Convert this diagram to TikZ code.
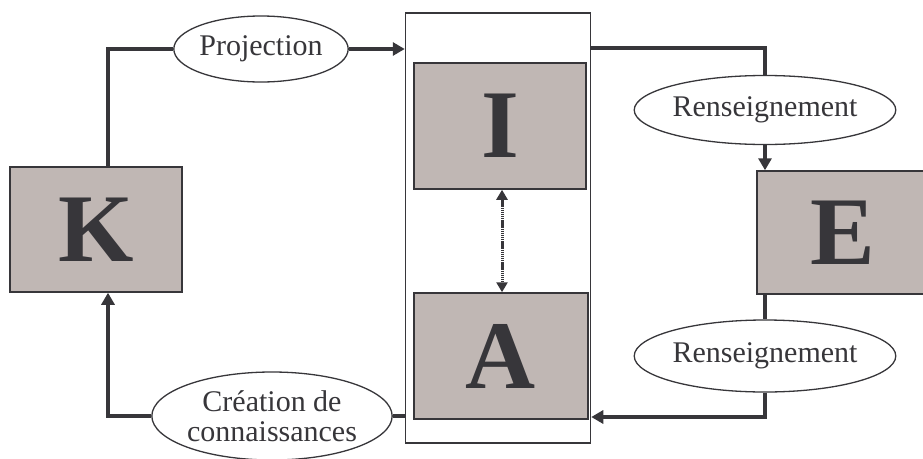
\documentclass[tikz,border=0pt]{standalone}
\usepackage{fontspec}
\setmainfont{Liberation Serif}
\usetikzlibrary{arrows.meta,shapes.geometric}
\definecolor{boxfill}{RGB}{192,183,180}
\definecolor{ink}{RGB}{55,54,58}
\tikzset{
  box/.style={draw=ink, line width=1.5pt, fill=boxfill, inner sep=0pt, text=ink,
    font=\fontsize{97}{97}\selectfont\bfseries},
  frame/.style={draw=ink, line width=1.5pt, inner sep=0pt},
  oval/.style={ellipse, draw=ink, line width=1.3pt, fill=white, inner sep=0pt, text=ink,
    font=\fontsize{30}{30}\selectfont},
  conn/.style={draw=ink, line width=4.6pt},
  tip/.style={-{Triangle[length=12pt,width=13pt]}},
  dots/.style={draw=ink, line width=3pt, dash pattern=on 1.4pt off 0.7pt,
    {Triangle[length=10pt,width=11pt]}-{Triangle[length=10pt,width=11pt]}}
}
\begin{document}
\begin{tikzpicture}[x=1pt,y=-1pt]
\useasboundingbox (0,0) rectangle (923,458);
% boxes
\node[frame, minimum width=185pt, minimum height=430pt] (C) at (498,228) {};
\node[box, minimum width=172pt, minimum height=125pt] (K) at (96,229.5) {K};
\node[box, minimum width=172pt, minimum height=126pt] (I) at (500,126) {I};
\node[box, minimum width=174pt, minimum height=126pt] (A) at (501,356) {A};
\node[box, minimum width=172pt, minimum height=123pt] (E) at (843,232.5) {E};
% ellipses
\node[oval, minimum width=163pt, minimum height=66pt] (P) at (261,49) {Projection};
\node[oval, minimum width=207pt, minimum height=69pt] (R1) at (765,110) {Renseignement};
\node[oval, minimum width=207pt, minimum height=72pt] (R2) at (765,356) {Renseignement};
\node[oval, minimum width=210pt, minimum height=88pt, align=center] (Cr) at (272,416) {Création de\\connaissances};
% coordinates
\coordinate (kt) at (108,49);
\coordinate (rt) at (765,48);
\coordinate (rb) at (765,417);
\coordinate (kb) at (108,416);
% connectors
\draw[conn] (K.north -| kt) -- (kt) -- (P.west);
\draw[conn, tip] (P.east) -- (P.east -| C.west);
\draw[conn] (C.east |- rt) -- (rt) -- (R1.north);
\draw[conn, tip] (R1.south) -- (R1.south |- E.north);
\draw[conn] (E.south -| R2.north) -- (R2.north);
\draw[conn, tip] (R2.south) -- (rb) -- (rb -| C.east);
\draw[conn] (C.west |- Cr.east) -- (Cr.east);
\draw[conn, tip] (Cr.west) -- (kb) -- (kb |- K.south);
\draw[dots] ([xshift=2pt]I.south) -- ([xshift=2pt]I.south |- A.north);
\end{tikzpicture}
\end{document}
